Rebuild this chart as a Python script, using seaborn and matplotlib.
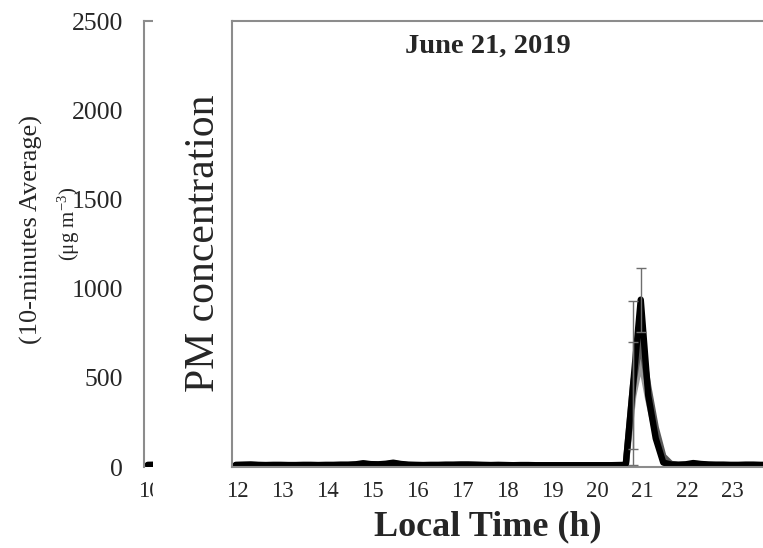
import numpy as np
import pandas as pd
import matplotlib
matplotlib.use("Agg")
import matplotlib.pyplot as plt
import matplotlib.transforms as mtransforms
from matplotlib.patches import Rectangle
import seaborn as sns

# ---------------- data: 10-minute averages, 12:05 ... 23:55 ----------------
start_h = 12
step_h = 10 / 60
n_points = 72
times = start_h + step_h / 2 + step_h * np.arange(n_points)

pm_black = [12, 13, 14, 12, 11, 12, 12, 11, 11, 12,
            12, 11, 12, 12, 13, 13, 15, 21, 16, 15,
            18, 24, 17, 13, 12, 11, 12, 12, 13, 13,
            14, 14, 13, 12, 11, 12, 11, 10, 11, 11,
            10, 10, 10, 10, 10, 10, 10, 10, 10, 10,
            10, 11, 12, 470, 938, 400, 160, 25, 14, 13,
            15, 22, 17, 14, 13, 13, 12, 12, 13, 13, 12, 12]
pm_dark = [10, 11, 12, 10, 9, 10, 10, 9, 9, 10,
           10, 9, 10, 10, 11, 11, 13, 18, 14, 13,
           15, 20, 15, 11, 10, 9, 10, 10, 11, 11,
           12, 12, 11, 10, 9, 10, 9, 8, 9, 9,
           8, 8, 8, 8, 8, 8, 8, 8, 8, 8,
           8, 9, 10, 470, 720, 450, 220, 60, 18, 11,
           12, 18, 15, 12, 11, 11, 10, 10, 11, 11, 10, 10]
pm_light = [8, 9, 10, 8, 8, 8, 8, 8, 8, 8,
            8, 8, 8, 8, 9, 9, 11, 15, 12, 11,
            13, 17, 13, 9, 8, 8, 8, 8, 9, 9,
            10, 10, 9, 8, 8, 8, 8, 7, 8, 8,
            7, 7, 7, 7, 7, 7, 7, 7, 7, 7,
            7, 8, 9, 400, 600, 380, 190, 50, 15, 9,
            10, 15, 13, 10, 9, 9, 8, 8, 9, 9, 8, 8]

# error bars (index -> +/- value)
err_black = {54: 180}
err_dark = {53: 460}
err_light = {53: 300}

# earlier panel (cut off on the left), starts at 10 h
left_times = [10.083, 10.25, 10.417, 10.583]
left_pm = [12, 13, 12, 12]

x_ticks = list(range(12, 24))
y_ticks = [0, 500, 1000, 1500, 2000, 2500]

df = pd.concat([
    pd.DataFrame({"time": times, "pm": pm_light, "series": "light"}),
    pd.DataFrame({"time": times, "pm": pm_dark, "series": "dark"}),
    pd.DataFrame({"time": times, "pm": pm_black, "series": "black"}),
])
palette = {"light": "#9a9a9a", "dark": "#5a5a5a", "black": "#000000"}

# ---------------- figure ----------------
sns.set_style("white")
plt.rcParams["font.family"] = ["Liberation Serif", "DejaVu Serif"]
plt.rcParams["mathtext.fontset"] = "stix"

W, H = 763, 548
fig = plt.figure(figsize=(W / 100, H / 100), dpi=100)

def fx(px):
    return px / W

def fy(py):
    return 1 - py / H

spine_c = "#8c8c8c"
ax_bottom, ax_top = 467, 21
lw = 4.6

# left (mostly hidden) panel
axl = fig.add_axes([fx(144), fy(ax_bottom), fx(232) - fx(144), fy(ax_top) - fy(ax_bottom)])
axl.set_zorder(0)
sns.lineplot(x=left_times, y=left_pm, color="black", linewidth=lw, ax=axl)
axl.set_xlim(10, 10 + 88 / 45)
axl.set_ylim(0, 2500)
axl.set_yticks(y_ticks)
axl.set_xticks([10])
axl.tick_params(axis="y", length=0, pad=15, labelsize=18.5)
axl.tick_params(axis="x", length=0, pad=10, labelsize=16.5)
for s in ["left", "top"]:
    axl.spines[s].set_color(spine_c)
    axl.spines[s].set_linewidth(1.5)
axl.spines["right"].set_visible(False)
axl.spines["bottom"].set_visible(False)
axl.set_xlabel("")
axl.set_ylabel("")

# white strip covering the left panel
fig.patches.append(Rectangle((fx(153), 0), fx(232) - fx(153), 1, transform=fig.transFigure,
                             facecolor="white", edgecolor="none", zorder=1))

# main panel
ax = fig.add_axes([fx(232), fy(ax_bottom), fx(232 + 12 * 45) - fx(232), fy(ax_top) - fy(ax_bottom)])
ax.set_zorder(2)
ax.set_facecolor("white")
sns.lineplot(data=df, x="time", y="pm", hue="series", palette=palette,
             hue_order=["light", "dark", "black"], linewidth=lw, legend=False,
             sort=False, ax=ax)
for line in ax.get_lines():
    line.set_solid_joinstyle("round")
    line.set_solid_capstyle("round")

for vals, errs in [(pm_light, err_light), (pm_dark, err_dark), (pm_black, err_black)]:
    idx = list(errs.keys())
    ax.errorbar([times[i] for i in idx], [vals[i] for i in idx], yerr=[errs[i] for i in idx],
                fmt="none", ecolor="#6e6e6e", elinewidth=1, capsize=3.5, capthick=1, zorder=5)

ax.set_xlim(12, 24)
ax.set_ylim(0, 2500)
ax.set_xticks(x_ticks)
ax.set_yticks(y_ticks)
ax.set_yticklabels([])
ax.tick_params(axis="x", direction="in", length=5, width=1, color=spine_c, pad=10, labelsize=16.5)
ax.tick_params(axis="y", direction="in", length=7, width=1, color=spine_c)
for s in ["left", "top", "bottom", "right"]:
    ax.spines[s].set_color(spine_c)
    ax.spines[s].set_linewidth(1.5)
ax.set_xlabel("")
ax.set_ylabel("")

# x tick labels sit a little right of their ticks
shift = mtransforms.ScaledTranslation(5 / 100, 0, fig.dpi_scale_trans)
for a in (ax, axl):
    for lab in a.get_xticklabels():
        lab.set_transform(lab.get_transform() + shift)

# texts
fig.text(fx(488), fy(46), "June 21, 2019", ha="center", va="center",
         fontsize=20.5, fontweight="bold", zorder=4)
fig.text(fx(488), fy(527), "Local Time (h)", ha="center", va="center",
         fontsize=26, fontweight="bold", zorder=4)
fig.text(fx(204), fy(243), "PM concentration", ha="center", va="center",
         rotation=90, fontsize=30, zorder=4)
fig.text(fx(31), fy(230), "(10-minutes Average)", ha="center", va="center",
         rotation=90, fontsize=19, zorder=4)
fig.text(fx(69), fy(224), "(μg m$^{\\mathregular{-3}}$)", ha="center", va="center",
         rotation=90, fontsize=15, zorder=4)

fig.savefig("out.png", dpi=100)
